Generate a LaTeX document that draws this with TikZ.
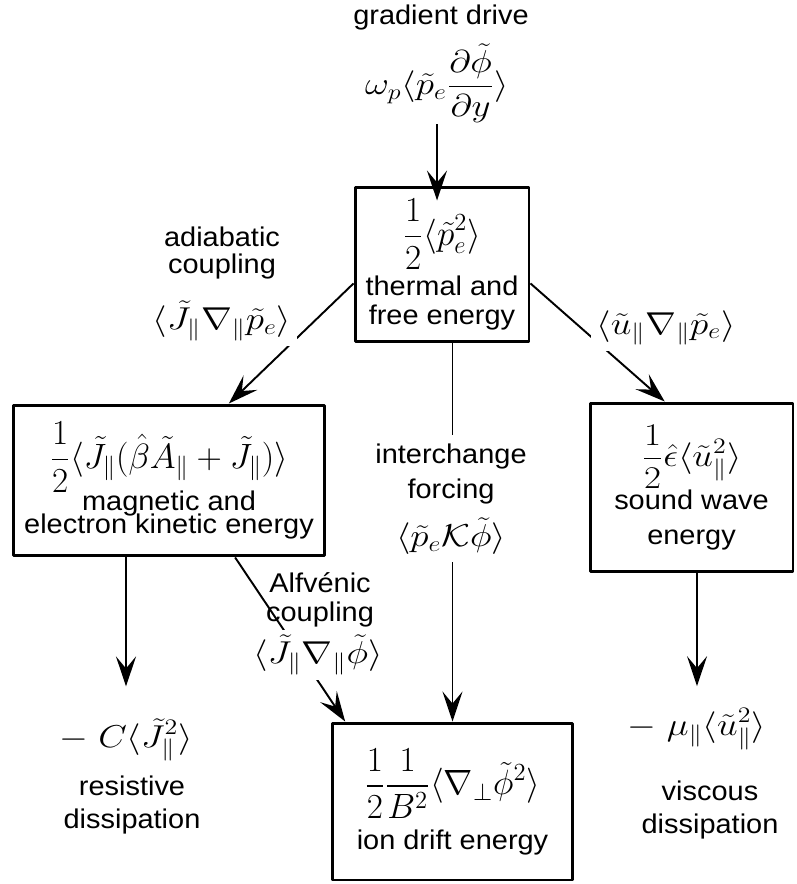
\RequirePackage{fix-cm}
\documentclass[tikz,border=0pt]{standalone}
\usepackage{amsmath, amssymb}
\usepackage{fontspec}
\setmainfont{Liberation Sans}[FakeStretch=1.07]
\usepackage{graphicx}
\usepackage{tikz}
\usetikzlibrary{arrows.meta, calc, positioning}
\newcommand{\bmath}[1]{{\fontsize{20}{24}\selectfont$\displaystyle #1$}}
\newcommand{\lmath}[1]{{\fontsize{18}{22}\selectfont\scalebox{1.17}[1]{$\displaystyle #1$}}}
\tikzset{
  ebox/.style = {draw, line width=1.7pt, align=center, inner sep=2pt,
                 font=\fontsize{15.4}{16.5}\selectfont},
  flow/.style = {-{Stealth[length=6mm, width=4mm, inset=2.4mm]}, line width=1.1pt},
  lab/.style  = {align=center, inner sep=1pt, font=\fontsize{15.4}{16.5}\selectfont},
  mlab/.style = {lab, fill=white, inner sep=3pt},
}

\begin{document}
\begin{tikzpicture}[x=0.02cm, y=-0.02cm, line join=round]
  \useasboundingbox (0,0) rectangle (796,884);
  \node[ebox, minimum width=3.48cm, minimum height=3.10cm] (thermal) at (442,264.5)
    {\bmath{\frac{1}{2}\langle\tilde p_e^2\rangle}\\[3pt] thermal and\\ free energy};
  \node[ebox, minimum width=6.24cm, minimum height=3.02cm] (magnetic) at (169,480.5)
    {\bmath{\frac{1}{2}\langle\tilde J_\parallel(\hat\beta\tilde A_\parallel+\tilde J_\parallel)\rangle}\\[-2pt]
     magnetic and\\[-3pt] electron kinetic energy};
  \node[ebox, minimum width=4.06cm, minimum height=3.38cm] (sound) at (691.5,487.5)
    {\lmath{\frac{1}{2}\hat\epsilon\langle\tilde u_\parallel^2\rangle}\\ sound wave\\[3.5pt] energy};
  \node[ebox, minimum width=4.82cm, minimum height=3.14cm] (drift) at (452.5,801.5)
    {\bmath{\frac{1}{2}\frac{1}{B^2}\langle\nabla_\perp\tilde\phi^2\rangle}\\[5pt] ion drift energy};

  \node[lab] (gtxt) at (441,18) {gradient drive};
  \node[lab] (gmath) at (437,83) {\lmath{\omega_p\langle\tilde p_e\frac{\partial\tilde\phi}{\partial y}\rangle}};
  \node[lab] (adtxt) at (222,253) {adiabatic\\[-1pt]coupling};
  \node[lab] (alftxt) at (320,600) {Alfvénic\\coupling};
  \node[lab] (resmath) at (126,740) {\lmath{-\;C\langle\tilde J_\parallel^2\rangle}};
  \node[lab] (restxt) at (132,805) {resistive\\[2pt]dissipation};
  \node[lab] (vismath) at (697,729) {\lmath{-\;\mu_\parallel\langle\tilde u_\parallel^2\rangle}};
  \node[lab] (vistxt) at (710,810) {viscous\\[2pt]dissipation};

  \draw[flow, shorten >=-0.3cm] (gmath.south) -- (gmath.south |- thermal.north);
  \draw[flow] ($(thermal.north west)!0.62!(thermal.south west)$)
    -- ($(magnetic.north west)!0.69!(magnetic.north east)$);
  \draw[flow] ($(thermal.north east)!0.62!(thermal.south east)$)
    -- ($(sound.north west)!0.37!(sound.north east)$);
  \draw[flow] (thermal.south -| drift.north) -- (drift.north);
  \draw[flow] ($(magnetic.south west)!0.71!(magnetic.south east)$)
    -- ($(drift.north west)!0.06!(drift.north east)$);
  \draw[flow, shorten >=0.6cm] (resmath.north |- magnetic.south) -- (resmath.north);
  \draw[flow, shorten >=0.4cm] (vismath.north |- sound.south) -- (vismath.north);

  \node[mlab] (admath) at (222,321) {\lmath{\langle\tilde J_\parallel\nabla_\parallel\tilde p_e\rangle}};
  \node[mlab] (sdmath) at (666,328) {\lmath{\langle\tilde u_\parallel\nabla_\parallel\tilde p_e\rangle}};
  \node[mlab, inner ysep=4pt] (intmath) at (451,536) {\lmath{\langle\tilde p_e\mathcal{K}\tilde\phi\rangle}};
  \node[mlab, inner sep=5pt] (inttxt) at (451,474) {interchange\\[3pt]forcing};
  \node[mlab] (alfmath) at (318,655) {\lmath{\langle\tilde J_\parallel\nabla_\parallel\tilde\phi\rangle}};
\end{tikzpicture}
\end{document}
